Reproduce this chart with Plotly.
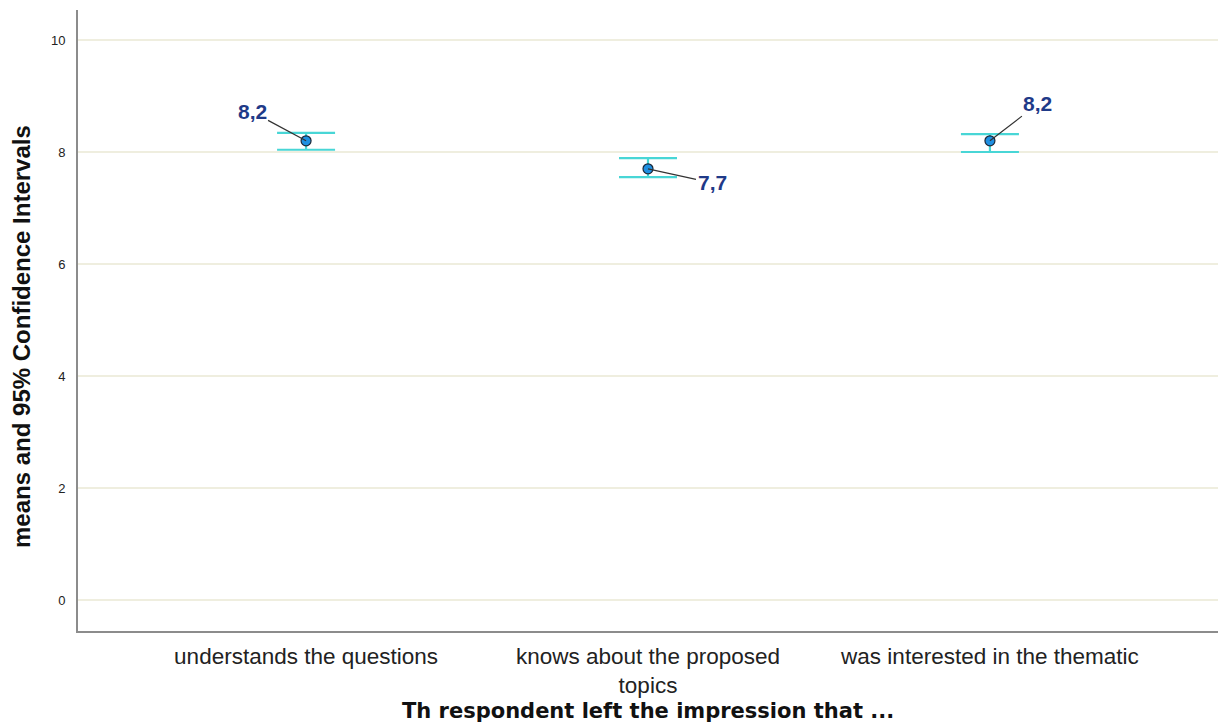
import plotly.graph_objects as go

# Survey items and their mean scores with 95% confidence limits
categories = ["understands the questions", "knows about the proposed<br>topics", "was interested in the thematic"]
means = [8.2, 7.7, 8.2]
ci_lower = [8.04, 7.55, 8.00]
ci_upper = [8.34, 7.89, 8.32]
y_ticks = [0, 2, 4, 6, 8, 10]

# Offsets (px) of each value label from its point
label_dx = [-54, 64, 48]
label_dy = [-29, 14, -37]

xs = list(range(len(categories)))
err_plus = [u - m for u, m in zip(ci_upper, means)]
err_minus = [m - l for m, l in zip(means, ci_lower)]

W, H = 1221, 723
ML, MR, MT, MB = 78, 3, 10, 92
plot_w = W - ML - MR
plot_h = H - MT - MB


def paper_x(px):
    return (px - ML) / plot_w


def paper_y(py):
    return (H - MB - py) / plot_h


fig = go.Figure()
fig.add_trace(go.Scatter(
    x=xs, y=means, mode="markers",
    marker=dict(size=10, color="#1E8FE1", line=dict(color="#1B2636", width=1.2)),
    error_y=dict(type="data", symmetric=False, array=err_plus, arrayminus=err_minus,
                 color="#48D6D6", thickness=2.2, width=29),
    showlegend=False, hoverinfo="skip",
))

for x, m, dx, dy in zip(xs, means, label_dx, label_dy):
    fig.add_annotation(
        x=x, y=m, ax=dx, ay=dy, axref="pixel", ayref="pixel",
        text="<b>" + f"{m:.1f}".replace(".", ",") + "</b>",
        showarrow=True, arrowhead=0, arrowwidth=1.2, arrowcolor="#333333",
        standoff=0, startstandoff=0,
        font=dict(family="Liberation Sans, Arial, sans-serif", size=21, color="#1F3A88"),
    )

# Axis titles
fig.add_annotation(
    xref="paper", yref="paper", x=paper_x(648), y=paper_y(711),
    xanchor="center", yanchor="middle", showarrow=False,
    text="<b>Th respondent left the impression that ...</b>",
    font=dict(family="DejaVu Sans, sans-serif", size=21, color="#111111"),
)
fig.add_annotation(
    xref="paper", yref="paper", x=paper_x(21), y=paper_y(337),
    xanchor="center", yanchor="middle", showarrow=False, textangle=-90,
    text="<b>means and 95% Confidence Intervals</b>",
    font=dict(family="Liberation Sans, Arial, sans-serif", size=24, color="#111111"),
)

fig.update_layout(
    width=W, height=H,
    margin=dict(l=ML, r=MR, t=MT, b=MB),
    paper_bgcolor="white", plot_bgcolor="white",
    font=dict(family="Liberation Sans, Arial, sans-serif", color="#1a1a1a"),
    xaxis=dict(
        range=[-0.667, 2.667], tickmode="array", tickvals=xs, ticktext=categories,
        tickfont=dict(size=22.5, color="#222222"), showgrid=False, zeroline=False,
        showline=True, linecolor="#8c8c8c", linewidth=2, ticks="outside", ticklen=4,
        tickcolor="rgba(0,0,0,0)", automargin=False,
    ),
    yaxis=dict(
        range=[-0.554, 10.536], tickmode="array", tickvals=y_ticks,
        tickfont=dict(size=13, color="#222222"), showgrid=True, gridcolor="#EFEEDF",
        gridwidth=1.5, zeroline=False, showline=True, linecolor="#8c8c8c", linewidth=2,
        ticks="outside", ticklen=8, tickcolor="rgba(0,0,0,0)", automargin=False,
    ),
)

fig.write_html("out.html")
